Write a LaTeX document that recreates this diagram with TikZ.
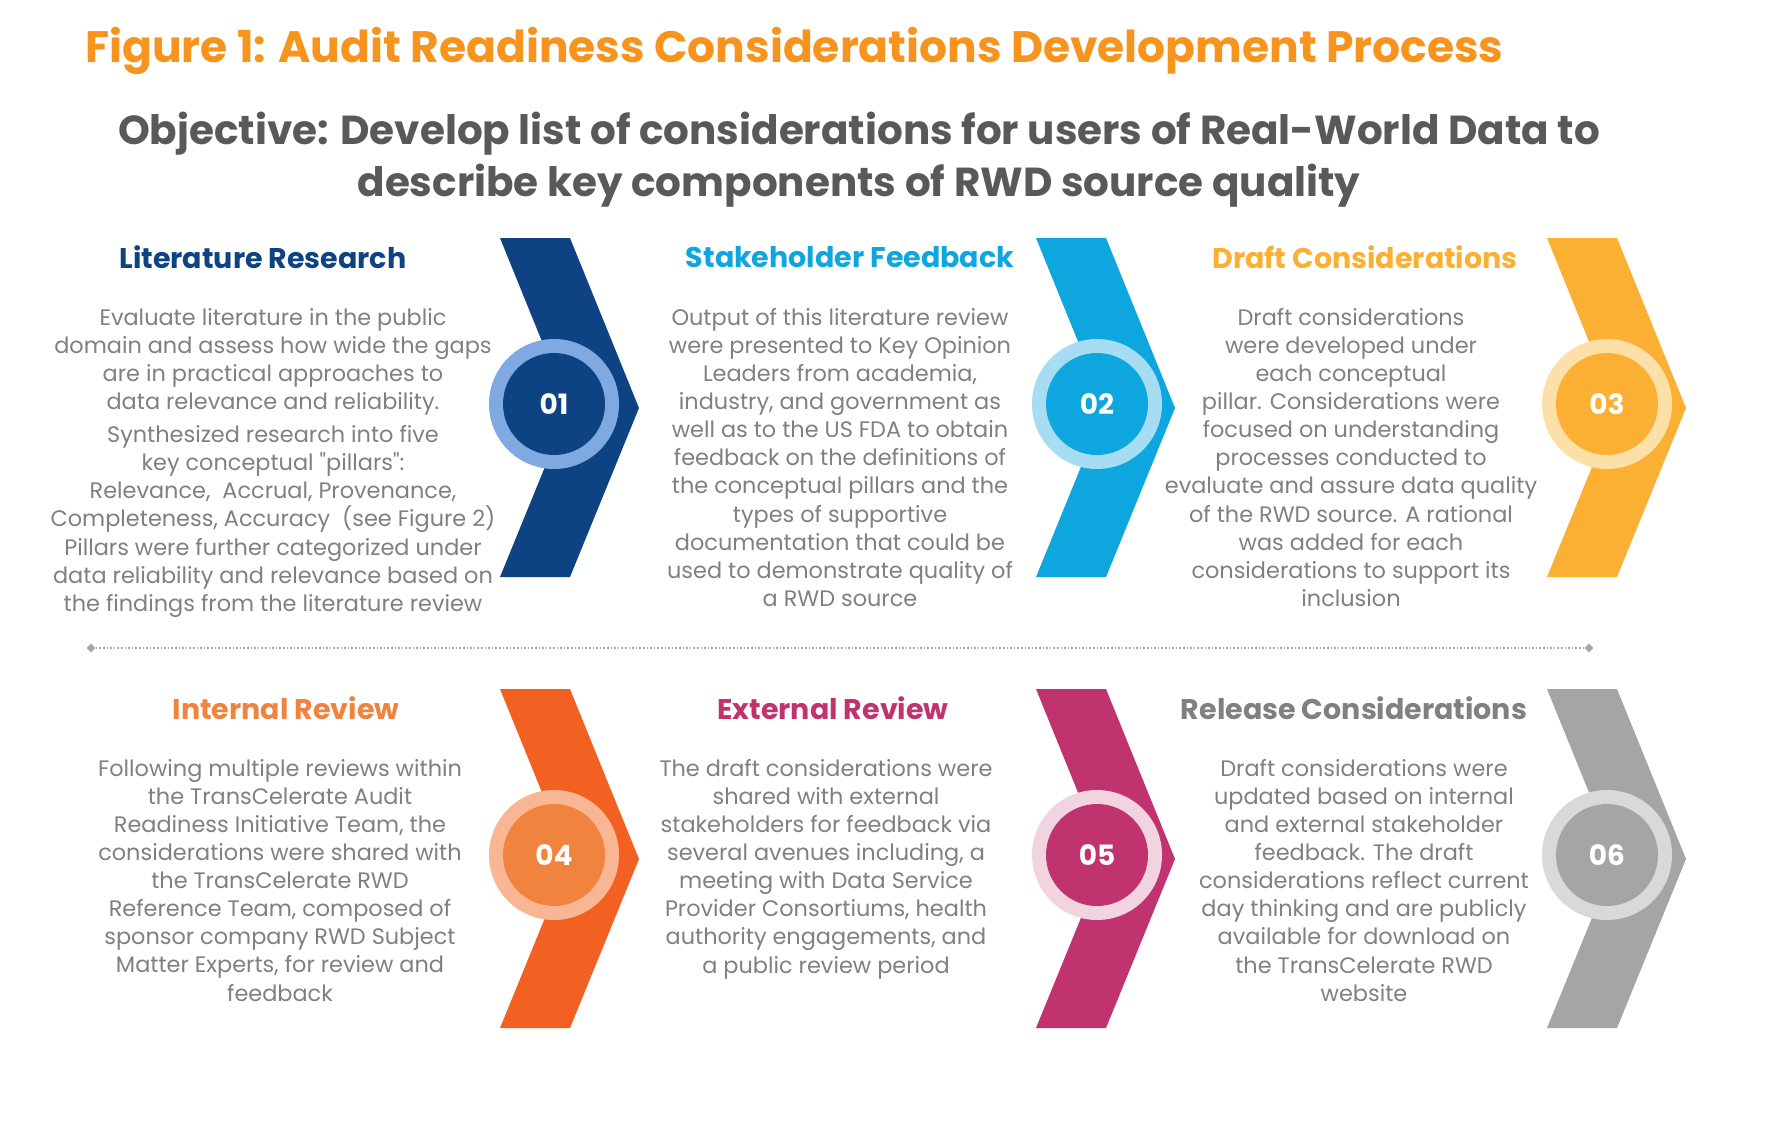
\documentclass[tikz,border=0pt]{standalone}
\usepackage{fontspec}
\setmainfont{Poppins}
\usetikzlibrary{positioning,shapes.geometric}

\definecolor{figorange}{HTML}{F7941D}
\definecolor{objgray}{HTML}{595959}
\definecolor{txtgray}{HTML}{808080}
\definecolor{litblue}{HTML}{0D4382}
\definecolor{litring}{HTML}{7EA9E1}
\definecolor{stkblue}{HTML}{0DA6DE}
\definecolor{stkring}{HTML}{A6DDF2}
\definecolor{drfyellow}{HTML}{FBB034}
\definecolor{drfring}{HTML}{FDDFA8}
\definecolor{intorange}{HTML}{F26122}
\definecolor{intring}{HTML}{F9B694}
\definecolor{intdot}{HTML}{F0843F}
\definecolor{extpink}{HTML}{C1336F}
\definecolor{extring}{HTML}{F2D4E1}
\definecolor{relgray}{HTML}{A5A5A5}
\definecolor{relring}{HTML}{D9D9D9}

\tikzset{
  steptitle/.style={font=\bfseries\fontsize{28.5}{32}\selectfont, inner sep=0pt},
  stepbody/.style={font=\fontsize{22.4}{28.1}\selectfont, text=txtgray, align=center, anchor=north, inner sep=0pt},
  stepnum/.style={circle, font=\bfseries\fontsize{28}{30}\selectfont, text=white, minimum size=102pt, inner sep=0pt},
}

\begin{document}
\begin{tikzpicture}[x=1pt,y=-1pt]
  \useasboundingbox[fill=white] (0,0) rectangle (1780,1140);

  % headline
  \node[anchor=west, text=figorange, font=\bfseries\fontsize{44}{46}\selectfont, inner sep=0pt] (figtitle) at (85,51)
    {Figure 1: Audit Readiness Considerations Development Process};
  \node[text=objgray, align=center, font=\bfseries\fontsize{40.5}{52}\selectfont, inner sep=0pt] (objective) at (859,160)
    {Objective: Develop list of considerations for users of Real-World Data to\\
     describe key components of RWD source quality};

  % chevrons with numbered dots
  \foreach \px/\py/\cx/\fillc/\ringc/\dotc/\num in {
      500/238/54/litblue/litring/litblue/01,
      1036/238/61/stkblue/stkring/stkblue/02,
      1547/238/60/drfyellow/drfring/drfyellow/03,
      500/689/54/intorange/intring/intdot/04,
      1036/689/61/extpink/extring/extpink/05,
      1547/689/60/relgray/relring/relgray/06}{
    \fill[\fillc] (\px,\py) -- ++(70,0) -- ++(69,170) -- ++(-69,169) -- ++(-70,0) -- ++(69,-169) -- cycle;
    \node[circle, fill=\ringc, minimum size=130pt, inner sep=0pt] (ring\num) at (\px+\cx,\py+166) {};
    \node[stepnum, fill=\dotc] (dot\num) at (ring\num) {\num};
  }

  % divider
  \node[diamond, fill=txtgray!70, inner sep=0pt, minimum size=9pt] (lineL) at (91,648) {};
  \node[diamond, fill=txtgray!70, inner sep=0pt, minimum size=9pt] (lineR) at (1589,648) {};
  \draw[txtgray!70, line width=1.6pt, dotted] (lineL) -- (lineR);

  % top row
  \node[steptitle, text=litblue] (title01) at (263,257) {Literature Research};
  \node[stepbody] (body01) at (273,308) {Evaluate literature in the public\\
    domain and assess how wide the gaps\\ are in practical approaches to\\
    data relevance and reliability.\\[5pt]
    Synthesized research into five\\ key conceptual \textquotedbl pillars\textquotedbl:\\
    Relevance,\ \ Accrual, Provenance,\\ Completeness, Accuracy\ \ (see Figure 2)\\
    Pillars were further categorized under\\ data reliability and relevance based on\\
    the findings from the literature review};

  \node[steptitle, text=stkblue] (title02) at (850,257) {Stakeholder Feedback};
  \node[stepbody] (body02) at (840,308) {Output of this literature review\\
    were presented to Key Opinion\\ Leaders from academia,\\
    industry, and government as\\ well as to the US FDA to obtain\\
    feedback on the definitions of\\ the conceptual pillars and the\\
    types of supportive\\ documentation that could be\\
    used to demonstrate quality of\\ a RWD source};

  \node[steptitle, text=drfyellow] (title03) at (1365,257) {Draft Considerations};
  \node[stepbody] (body03) at (1351,308) {Draft considerations\\
    were developed under\\ each conceptual\\
    pillar. Considerations were\\ focused on understanding\\
    processes conducted to\\ evaluate and assure data quality\\
    of the RWD source. A rational\\ was added for each\\
    considerations to support its\\ inclusion};

  % bottom row
  \node[steptitle, text=intdot] (title04) at (286,708) {Internal Review};
  \node[stepbody] (body04) at (280,759) {Following multiple reviews within\\
    the TransCelerate Audit\\ Readiness Initiative Team, the\\
    considerations were shared with\\ the TransCelerate RWD\\
    Reference Team, composed of\\ sponsor company RWD Subject\\
    Matter Experts, for review and\\ feedback};

  \node[steptitle, text=extpink] (title05) at (833,708) {External Review};
  \node[stepbody] (body05) at (826,759) {The draft considerations were\\
    shared with external\\ stakeholders for feedback via\\
    several avenues including, a\\ meeting with Data Service\\
    Provider Consortiums, health\\ authority engagements, and\\
    a public review period};

  \node[steptitle, text=txtgray] (title06) at (1354,708) {Release Considerations};
  \node[stepbody] (body06) at (1364,759) {Draft considerations were\\
    updated based on internal\\ and external stakeholder\\
    feedback. The draft\\ considerations reflect current\\
    day thinking and are publicly\\ available for download on\\
    the TransCelerate RWD\\ website};
\end{tikzpicture}
\end{document}
